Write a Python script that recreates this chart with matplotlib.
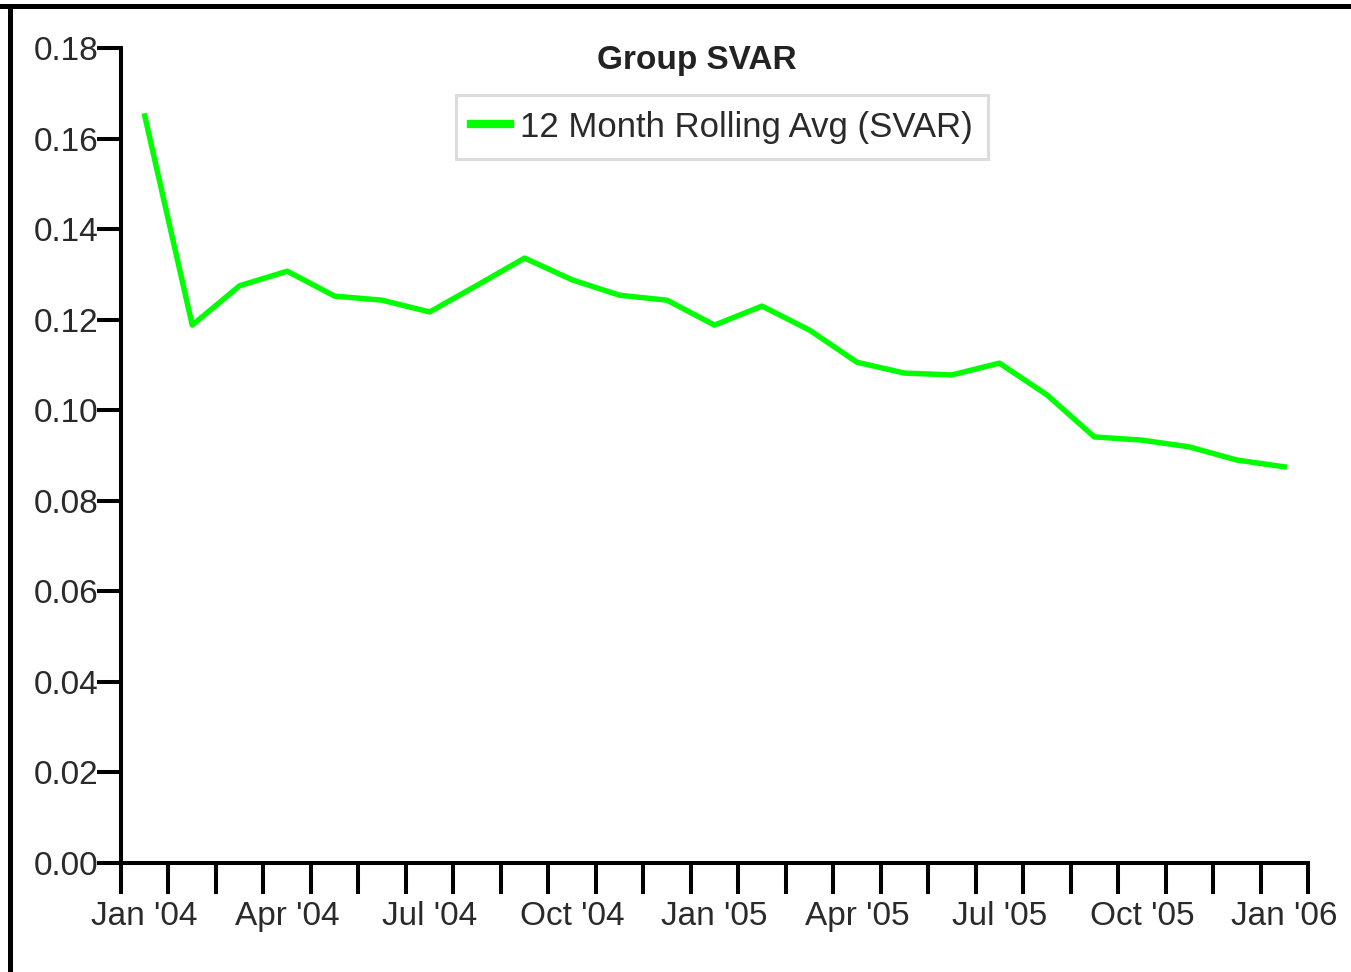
import matplotlib
matplotlib.use("Agg")
import matplotlib.pyplot as plt
from matplotlib.lines import Line2D

months = ["Jan '04", "Feb '04", "Mar '04", "Apr '04", "May '04", "Jun '04", "Jul '04",
          "Aug '04", "Sep '04", "Oct '04", "Nov '04", "Dec '04", "Jan '05", "Feb '05",
          "Mar '05", "Apr '05", "May '05", "Jun '05", "Jul '05", "Aug '05", "Sep '05",
          "Oct '05", "Nov '05", "Dec '05", "Jan '06"]
svar_avg = [0.165, 0.1188, 0.1275, 0.1307, 0.1252, 0.1243, 0.1217, 0.1276, 0.1336,
            0.1288, 0.1254, 0.1243, 0.1188, 0.1230, 0.1177, 0.1106, 0.1082, 0.1078,
            0.1104, 0.1034, 0.0941, 0.0934, 0.0919, 0.0890, 0.0875]
y_ticks = [0.00, 0.02, 0.04, 0.06, 0.08, 0.10, 0.12, 0.14, 0.16, 0.18]
series_name = "12 Month Rolling Avg (SVAR)"
title = "Group SVAR"

plt.rcParams['font.family'] = ['Liberation Sans', 'DejaVu Sans']

W, H = 1351, 972
fig = plt.figure(figsize=(W / 100, H / 100), dpi=100)
fig.patch.set_facecolor('white')

left, right, bottom, top = 121, 1308, 863, 48
ax = fig.add_axes([left / W, 1 - bottom / H, (right - left) / W, (bottom - top) / H])

x = list(range(len(months)))
line, = ax.plot(x, svar_avg, color='#00ff00', lw=3.9, solid_joinstyle='round')

ax.set_xlim(-0.5, len(months) - 0.5)
ax.set_ylim(0, 0.18)

for s in ['top', 'right']:
    ax.spines[s].set_visible(False)
for s in ['left', 'bottom']:
    ax.spines[s].set_linewidth(2.9)
    ax.spines[s].set_color('black')

# y axis
ax.set_yticks(y_ticks)
ax.set_yticklabels([f"{v:.2f}" for v in y_ticks])
ax.tick_params(axis='y', which='major', length=17, width=2.9, pad=-1,
               labelsize=24, labelcolor='#2a2a2a', direction='out')

# x axis: boundary ticks (major, no labels), labels on minor at centers
ax.set_xticks([i - 0.5 for i in range(len(months) + 1)])
ax.set_xticklabels([])
ax.set_xticks(list(range(0, len(months), 3)), minor=True)
ax.set_xticklabels([months[i] for i in range(0, len(months), 3)], minor=True)
ax.tick_params(axis='x', which='major', length=22, width=2.9, direction='out')
ax.tick_params(axis='x', which='minor', length=0, pad=27, labelsize=24,
               labelcolor='#2a2a2a')

# title
fig.text(697 / W, 1 - 61 / H, title, ha='center', va='center', fontsize=24,
         fontweight='bold', color='#222222')

# legend
leg = fig.legend([line], [series_name], loc='center',
                 bbox_to_anchor=(722 / W, 1 - 127 / H), bbox_transform=fig.transFigure,
                 fontsize=25, frameon=True, fancybox=False, handlelength=1.1,
                 handletextpad=0.3, borderpad=0.45, borderaxespad=0)
leg.get_frame().set_edgecolor('#d4d4d4')
leg.get_frame().set_linewidth(2.2)
for t in leg.get_texts():
    t.set_color('#2a2a2a')
leg.get_lines()[0].set_linewidth(6)

# outer frame lines (top and left)
fig.add_artist(Line2D([0, 1], [1 - 6 / H, 1 - 6 / H], transform=fig.transFigure,
                      color='black', lw=3.6))
fig.add_artist(Line2D([10 / W, 10 / W], [0, 1 - 6 / H], transform=fig.transFigure,
                      color='black', lw=3.6))

fig.savefig('out.png', dpi=100, facecolor='white')
